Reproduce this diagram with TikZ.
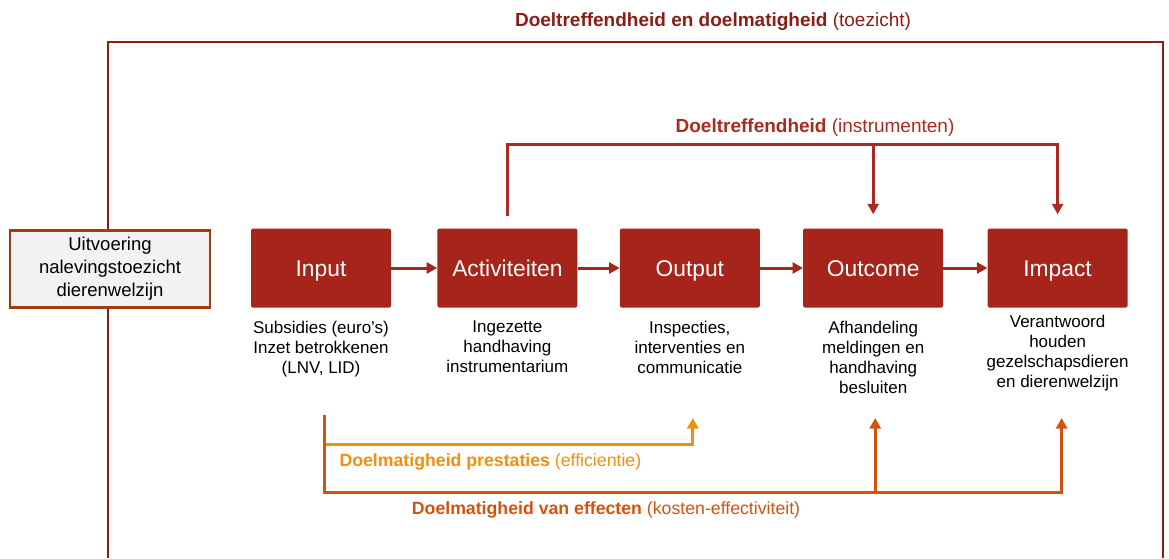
\documentclass[tikz,border=0pt]{standalone}
\usepackage{fontspec}
\setmainfont{Liberation Sans}
\usepackage{tikz}
\usetikzlibrary{arrows.meta,positioning}

\definecolor{kaderrood}{HTML}{8C1D16}
\definecolor{blokrood}{HTML}{A6241A}
\definecolor{instrrood}{HTML}{AA2A20}
\definecolor{lichtoranje}{HTML}{F0900E}
\definecolor{donkeroranje}{HTML}{D4530C}
\definecolor{randbruin}{HTML}{A33B10}

\newcommand{\fs}[2]{\fontsize{#1}{#2}\selectfont}

\tikzset{
  blok/.style={fill=blokrood, text=white, rounded corners=1.5pt,
    minimum width=140, minimum height=79, font=\fs{22.8}{26},
    text height=16.3pt, text depth=0pt},
  onder/.style={align=center, font=\fs{17}{20}, text=black},
  pijl/.style={-{Triangle[length=10.5pt, width=11pt]}, line width=3pt},
}

\begin{document}
\begin{tikzpicture}[x=1pt, y=-1pt]
      \useasboundingbox (0,0) rectangle (1169,558);
      % blokken
      \node[draw=randbruin, line width=2.5pt, fill=black!5, minimum width=200,
            minimum height=77, align=center, font=\fs{18.5}{23}]
            (uitv) at (110,269) {Uitvoering\\nalevingstoezicht\\dierenwelzijn};
      \node[blok] (inp) at (321,268) {Input};
      \node[blok, right=46pt of inp] (act) {Activiteiten};
      \node[blok, right=42pt of act] (outp) {Output};
      \node[blok, right=43pt of outp] (outc) {Outcome};
      \node[blok, right=44pt of outc] (imp) {Impact};
      % teksten onder de blokken
      \node[onder, below=10pt of inp] (inptxt) {Subsidies (euro's)\\Inzet betrokkenen\\(LNV, LID)};
      \node[onder, below=10pt of act] (acttxt) {Ingezette\\handhaving\\instrumentarium};
      \node[onder, below=10pt of outp] (outptxt) {Inspecties,\\interventies en\\communicatie};
      \node[onder, below=10pt of outc] (outctxt) {Afhandeling\\meldingen en\\handhaving\\besluiten};
      \node[onder, below=4pt of imp] (imptxt) {Verantwoord\\houden\\gezelschapsdieren\\en dierenwelzijn};
      % kader
      \coordinate (kl) at (108,42);
      \coordinate (kr) at (1163,42);
      \node[text=kaderrood, font=\fs{19}{22}] (titel) at (713,22)
            {\textbf{Doeltreffendheid en doelmatigheid} (toezicht)};
      \draw[kaderrood, line width=2pt]
            (uitv.north -| kl) -- (kl) -- (kr) -- (kr |- 0,558);
      \draw[kaderrood, line width=2pt] (uitv.south -| kl) -- (kl |- 0,558);
      % ketenpijlen
      \draw[pijl, blokrood] (inp) -- (act);
      \draw[pijl, blokrood] (act) -- (outp);
      \draw[pijl, blokrood] (outp) -- (outc);
      \draw[pijl, blokrood] (outc) -- (imp);
      % doeltreffendheid
      \coordinate (dt) at (0,144);
      \node[text=instrrood, font=\fs{19}{22}] (dtlabel) at (815,128)
            {\textbf{Doeltreffendheid} (instrumenten)};
      \draw[instrrood, pijl]
            ([yshift=12]act.north) -- (act |- dt) -- (imp |- dt) -- ([yshift=14]imp.north);
      \draw[instrrood, pijl] (outc |- dt) -- ([yshift=14]outc.north);
      % doelmatigheid
      \coordinate (dm1) at (0,444);
      \coordinate (dm2) at (0,492);
      \coordinate (dmtop) at (0,418);
      \draw[lichtoranje, pijl]
            ([xshift=3]inp.south |- dm1) -- ([xshift=3]outp.south |- dm1) -- ([xshift=3]outp.south |- dmtop);
      \draw[donkeroranje, pijl]
            ([xshift=3]inp.south |- 0,415) -- ([xshift=3]inp.south |- dm2)
            -- ([xshift=4]imp.south |- dm2) -- ([xshift=4]imp.south |- dmtop);
      \draw[donkeroranje, pijl] ([xshift=2]outc.south |- dm2) -- ([xshift=2]outc.south |- dmtop);
      \node[anchor=west, text=lichtoranje, font=\fs{17.7}{20}] (prestlabel) at (336,462)
            {\textbf{Doelmatigheid prestaties} (efficientie)};
      \node[text=donkeroranje, font=\fs{17.7}{20}] (efflabel) at (606,510)
            {\textbf{Doelmatigheid van effecten} (kosten-effectiviteit)};
\end{tikzpicture}
\end{document}
